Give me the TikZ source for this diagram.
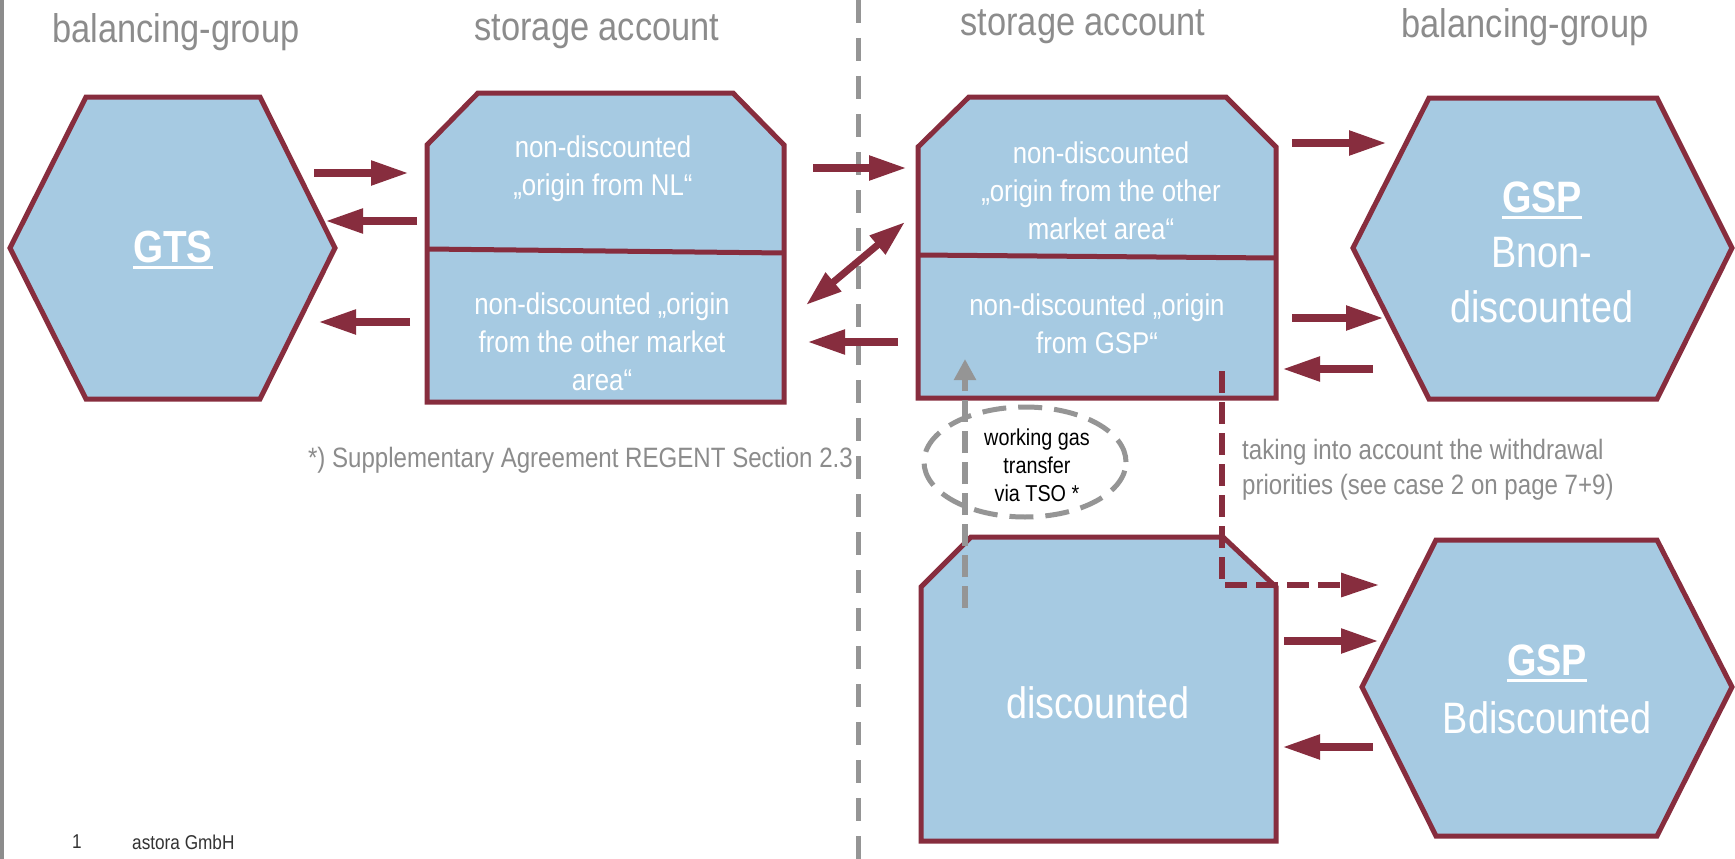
\documentclass[tikz,border=0pt]{standalone}
\usepackage{fontspec}
\setmainfont{Liberation Sans}[FakeStretch=0.86]
\usetikzlibrary{arrows.meta,shapes.geometric}
\definecolor{wine}{HTML}{872D3E}
\definecolor{lblue}{HTML}{A6CAE2}
\definecolor{hgray}{HTML}{8C8C8C}
\definecolor{dgray}{HTML}{959595}
\definecolor{footgray}{HTML}{333333}
\newsavebox\ulbox
\newcommand\myul[1]{\sbox\ulbox{#1}\rlap{\rule[-0.16em]{\wd\ulbox}{0.075em}}\usebox\ulbox}
\begin{document}
\begin{tikzpicture}[x=1pt,y=-1pt,
  shapebox/.style={draw=wine,fill=lblue,line width=5pt,line join=miter},
  blockarrow/.style={draw=wine,line width=8pt,-{Triangle[length=38pt,width=23pt]}},
  twoway/.style={draw=wine,line width=7pt,{Triangle[length=36pt,width=23pt]}-{Triangle[length=36pt,width=23pt]}},
  dashlink/.style={draw=wine,line width=6pt,line join=miter,dash pattern=on 22pt off 9pt,-{Triangle[length=38pt,width=23pt]}},
  grayarrow/.style={draw=dgray,line width=6pt,dash pattern=on 22pt off 9pt,-{Triangle[length=21pt,width=21pt]}},
  separator/.style={draw=dgray,line width=5pt,dash pattern=on 23pt off 15pt},
  header/.style={text=hgray,inner sep=0pt,font=\fontsize{40}{48}\selectfont},
  boxtext/.style={text=white,inner sep=0pt,align=center,font=\fontsize{30}{38}\selectfont},
  bigtext/.style={text=white,inner sep=0pt,align=center},
  note/.style={text=hgray,inner sep=0pt,align=left,font=\fontsize{28}{35}\selectfont},
  foot/.style={text=footgray,inner sep=0pt,font=\fontsize{20}{24}\selectfont},
]
\useasboundingbox (0,0) rectangle (1735,859);
\fill[white] (0,0) rectangle (1735,859);

% left border line
\coordinate (brdT) at (2,0);
\coordinate (brdB) at (2,859);
\draw[hgray,line width=4pt] (brdT) -- (brdB);

% separator
\coordinate (sepT) at (858,0);
\coordinate (sepB) at (858,859);
\draw[separator] (sepT) -- (sepB);

% headers
\node[header] (hbgL) at (176,32) {balancing-group};
\node[header] (hsaL) at (597,32) {storage account};
\node[header] (hsaR) at (1083,27) {storage account};
\node[header] (hbgR) at (1525,27) {balancing-group};

% shapes
\draw[shapebox] (86,97) -- (260,97) -- (335,248) -- (260,399) -- (86,399) -- (10,248) -- cycle;
\draw[shapebox] (478,93) -- (733,93) -- (784,145) -- (784,402) -- (427,402) -- (427,145) -- cycle;
\draw[wine,line width=5pt] (427,249) -- (784,253);
\draw[shapebox] (969,97) -- (1226,97) -- (1276,147) -- (1276,398) -- (918,398) -- (918,147) -- cycle;
\draw[wine,line width=5pt] (918,255) -- (1276,258);
\draw[shapebox] (971,537) -- (1223,537) -- (1276,587) -- (1276,841) -- (921,841) -- (921,587) -- cycle;
\draw[shapebox] (1429,98) -- (1657,98) -- (1732,248) -- (1657,399) -- (1429,399) -- (1353,248) -- cycle;
\draw[shapebox] (1436,540) -- (1657,540) -- (1732,687) -- (1657,836) -- (1436,836) -- (1362,687) -- cycle;

% texts in shapes
\node[bigtext,font=\bfseries\fontsize{45}{56}\selectfont] (gts) at (173,250) {\myul{GTS}};
\node[boxtext] (tNL) at (603,169) {non-discounted\\„origin from NL“};
\node[boxtext] (tOMAL) at (602,342) {non-discounted „origin\\from the other market\\area“};
\node[boxtext] (tOMAR) at (1101,191) {non-discounted\\„origin from the other\\market area“};
\node[boxtext] (tGSP) at (1097,324) {non-discounted „origin\\from GSP“};
\node[bigtext,font=\fontsize{44}{56}\selectfont] (disc) at (1098,703) {discounted};
\node[bigtext,font=\fontsize{44}{55}\selectfont] (gspA) at (1542,252) {{\bfseries\myul{GSP}}\\Bnon-\\discounted};
\node[bigtext,font=\fontsize{44}{58}\selectfont] (gspB) at (1547,689) {{\bfseries\myul{GSP}}\\Bdiscounted};

% arrow coordinates
\coordinate (a1s) at (314,173);  \coordinate (a1e) at (409,173);
\coordinate (a2s) at (417,221);  \coordinate (a2e) at (325,221);
\coordinate (a3s) at (410,322);  \coordinate (a3e) at (318,322);
\coordinate (a4s) at (813,168);  \coordinate (a4e) at (907,168);
\coordinate (a5s) at (806,305);  \coordinate (a5e) at (905,222);
\coordinate (a6s) at (898,342);  \coordinate (a6e) at (807,342);
\coordinate (a7s) at (1292,143); \coordinate (a7e) at (1387,143);
\coordinate (a8s) at (1292,318); \coordinate (a8e) at (1384,318);
\coordinate (a9s) at (1373,369); \coordinate (a9e) at (1282,369);
\coordinate (a11s) at (1284,641); \coordinate (a11e) at (1379,641);
\coordinate (a12s) at (1373,747); \coordinate (a12e) at (1282,747);
\coordinate (dls) at (1222,371); \coordinate (dlc) at (1222,585); \coordinate (dle) at (1379,585);
\coordinate (gas) at (965,608); \coordinate (gae) at (965,359);

\draw[blockarrow] (a1s) -- (a1e);
\draw[blockarrow] (a2s) -- (a2e);
\draw[blockarrow] (a3s) -- (a3e);
\draw[blockarrow] (a4s) -- (a4e);
\draw[twoway] (a5s) -- (a5e);
\draw[blockarrow] (a6s) -- (a6e);
\draw[blockarrow] (a7s) -- (a7e);
\draw[blockarrow] (a8s) -- (a8e);
\draw[blockarrow] (a9s) -- (a9e);
\draw[blockarrow] (a11s) -- (a11e);
\draw[blockarrow] (a12s) -- (a12e);
\draw[dashlink] (dls) -- (dlc) -- (dle);

% working gas transfer
\node[ellipse,draw=dgray,line width=5pt,dash pattern=on 24pt off 12pt,minimum width=202pt,minimum height=110pt,inner sep=0pt] (ell) at (1025,462) {};
\draw[grayarrow] (gas) -- (gae);
\node[inner sep=0pt,align=center,font=\fontsize{23}{28}\selectfont] (wgt) at (1037,465) {working gas\\transfer\\via TSO *};

% notes
\node[note,anchor=west] (prio) at (1242,470) {taking into account the withdrawal\\priorities (see case 2 on page 7+9)};
\node[note,anchor=east] (supp) at (853,460) {*) Supplementary Agreement REGENT Section 2.3};

% footer
\node[foot] (pgno) at (77,842) {1};
\node[foot,anchor=west] (comp) at (132,842) {astora GmbH};
\end{tikzpicture}
\end{document}
